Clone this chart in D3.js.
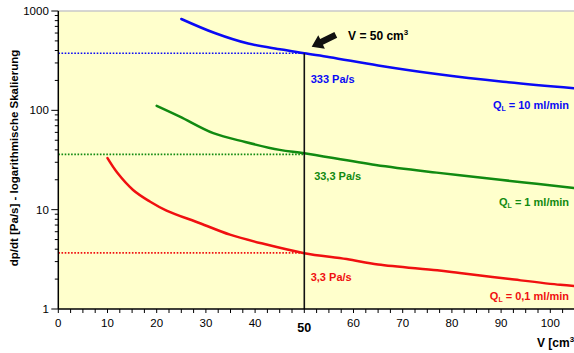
<!DOCTYPE html>
<html>
<head>
<meta charset="utf-8">
<script src="https://cdn.jsdelivr.net/npm/d3@7"></script>
<style>
  body { margin: 0; background: #fff; }
  text { font-family: Arial, "Liberation Sans", sans-serif; }
</style>
</head>
<body>
<div id="graphic"></div>
<script>
// curves (V in cm3, dp/dt in Pa/s)
const blueV   = [25, 31.8, 38.6, 45.4, 50, 55.2, 65, 76.9, 90.4, 104.8];
const blueP   = [831, 600, 470, 410, 375, 343, 283, 232, 194, 167];
const greenV  = [20, 24.7, 31.5, 38, 45, 50, 64.5, 76.9, 89.8, 97.2, 104.8];
const greenP  = [111, 86.5, 58.9, 48, 40, 37, 28.2, 23.6, 20, 18.2, 16.5];
const redV    = [10, 12, 15.2, 18.6, 22, 28.8, 34.9, 41.7, 50, 58.6, 65, 77, 81.6, 91.8, 102, 105];
const redP    = [33, 23.5, 15.8, 12.1, 9.8, 7.3, 5.6, 4.53, 3.65, 3.18, 2.8, 2.45, 2.3, 2.0, 1.75, 1.7];

// reference levels at V = 50
const markV = 50;
const levels = [375, 36, 3.67];
const levelLabels = ["333 Pa/s", "33,3 Pa/s", "3,3 Pa/s"];
const seriesLabels = ["10 ml/min", "1 ml/min", "0,1 ml/min"];

const xTicks = [0, 10, 20, 30, 40, 50, 60, 70, 80, 90, 100];
const yTicks = [1, 10, 100, 1000];

const Chart = {
  colors: ["#0a0af5", "#118a11", "#f01010"],
  margin: { left: 58.3, top: 11, bottom: 44 },
  outerWidth: 574,
  outerHeight: 353,
  parameters(){
    this.height = this.outerHeight - this.margin.top - this.margin.bottom;
    this.pxPerUnit = 4.92;
  },
  createScales(){
    this.xScale = d3.scaleLinear()
      .domain([0, 110])
      .range([0, 110 * this.pxPerUnit]);
    this.yScale = d3.scaleLog()
      .domain([1, 1000])
      .range([this.height, 0]);
  },
  drawPlot(){
    this.svg = d3.select("#graphic").append("svg")
      .attr("width", this.outerWidth)
      .attr("height", this.outerHeight);
    this.plot = this.svg.append("g")
      .attr("transform", `translate(${this.margin.left},${this.margin.top})`);
    this.plot.append("rect")
      .attr("width", this.xScale(110))
      .attr("height", this.height)
      .attr("fill", "#ffffcc");
    this.plot.append("line")
      .attr("x1", 0).attr("x2", this.xScale(110))
      .attr("y1", 0).attr("y2", 0)
      .attr("stroke", "#c8c8c8").attr("stroke-width", 1.5);
  },
  drawAxes(){
    const y = this.yScale, x = this.xScale;
    // y axis: minor log ticks + majors
    const minor = [];
    [1, 10, 100].forEach(d => { for (let k = 2; k <= 9; k++) minor.push(d * k); });
    const ya = this.plot.append("g");
    ya.selectAll(".minor").data(minor).enter().append("line")
      .attr("x1", -3.5).attr("x2", 0)
      .attr("y1", d => y(d)).attr("y2", d => y(d))
      .attr("stroke", "#000").attr("stroke-width", 1);
    ya.selectAll(".major").data(yTicks).enter().append("line")
      .attr("x1", -7).attr("x2", 0)
      .attr("y1", d => y(d)).attr("y2", d => y(d))
      .attr("stroke", "#000").attr("stroke-width", 1);
    ya.selectAll("text").data(yTicks).enter().append("text")
      .attr("x", -9.5).attr("y", d => y(d) + 4)
      .attr("text-anchor", "end")
      .attr("font-size", 11.5)
      .text(d => d);
    ya.append("line")
      .attr("x1", 0).attr("x2", 0).attr("y1", 0).attr("y2", this.height)
      .attr("stroke", "#000").attr("stroke-width", 1.5);

    // x axis
    const xa = this.plot.append("g").attr("transform", `translate(0,${this.height})`);
    xa.selectAll("line.t").data(d3.range(0, 110.1, 2.5)).enter().append("line")
      .attr("x1", d => x(d)).attr("x2", d => x(d))
      .attr("y1", 0).attr("y2", 4)
      .attr("stroke", "#000").attr("stroke-width", 1);
    xa.append("line")
      .attr("x1", 0).attr("x2", x(110)).attr("y1", 0).attr("y2", 0)
      .attr("stroke", "#000").attr("stroke-width", 1.5);
    xa.selectAll("text").data(xTicks).enter().append("text")
      .attr("x", d => x(d))
      .attr("y", d => d === markV ? 23 : 18)
      .attr("text-anchor", "middle")
      .attr("font-size", d => d === markV ? 12.5 : 11.5)
      .attr("font-weight", d => d === markV ? "bold" : "normal")
      .text(d => d);

    // axis titles
    this.svg.append("text")
      .attr("transform", "translate(18,158) rotate(-90)")
      .attr("text-anchor", "middle")
      .attr("font-size", 11.5)
      .attr("font-weight", "bold")
      .text("dp/dt [Pa/s] - logarithmische Skalierung");
    const vt = this.svg.append("text")
      .attr("x", 537).attr("y", 346.5)
      .attr("font-size", 12)
      .attr("font-weight", "bold");
    vt.append("tspan").text("V [cm");
    vt.append("tspan").attr("dy", -5).attr("font-size", 8).text("3");
    vt.append("tspan").attr("dy", 5).text("]");
  },
  drawData(){
    const x = this.xScale, y = this.yScale;
    const line = d3.line().x(d => x(d[0])).y(d => y(d[1])).curve(d3.curveCatmullRom);
    const series = [
      d3.zip(blueV, blueP),
      d3.zip(greenV, greenP),
      d3.zip(redV, redP)
    ];
    series.forEach((s, i) => {
      this.plot.append("path")
        .datum(s)
        .attr("fill", "none")
        .attr("stroke", this.colors[i])
        .attr("stroke-width", 2.5)
        .attr("stroke-linecap", "round")
        .attr("d", line);
    });
  },
  drawMarkers(){
    const x = this.xScale, y = this.yScale;
    levels.forEach((v, i) => {
      this.plot.append("line")
        .attr("x1", 0).attr("x2", x(markV))
        .attr("y1", y(v)).attr("y2", y(v))
        .attr("stroke", this.colors[i])
        .attr("stroke-width", 1.6)
        .attr("stroke-dasharray", "1.6,1.6");
    });
    this.plot.append("line")
      .attr("x1", x(markV)).attr("x2", x(markV))
      .attr("y1", y(levels[0])).attr("y2", this.height)
      .attr("stroke", "#111").attr("stroke-width", 1.6);

    // value labels next to the line
    const labelY = [30, 26, 28];
    const labelX = [1.3, 2, 1.3];
    levelLabels.forEach((t, i) => {
      this.plot.append("text")
        .attr("x", x(markV) + labelX[i] * 4.92)
        .attr("y", y(levels[i]) + labelY[i])
        .attr("font-size", 11)
        .attr("font-weight", "bold")
        .attr("fill", this.colors[i])
        .text(t);
    });

    // series labels at the right
    const sy = [108.5, 206, 299.5];
    seriesLabels.forEach((t, i) => {
      const tx = this.svg.append("text")
        .attr("x", 569).attr("y", sy[i])
        .attr("text-anchor", "end")
        .attr("font-size", 11)
        .attr("font-weight", "bold")
        .attr("fill", this.colors[i]);
      tx.append("tspan").text("Q");
      tx.append("tspan").attr("dy", 2).attr("font-size", 7).text("L");
      tx.append("tspan").attr("dy", -2).text(" = " + t);
    });
  },
  drawArrow(){
    const x = this.xScale, y = this.yScale;
    // arrow from (56.4, 574) to tip at (51.5, 437)
    const tail = [x(56.4), y(574)], tip = [x(51.5), y(437)];
    const dx = tip[0] - tail[0], dy = tip[1] - tail[1];
    const len = Math.hypot(dx, dy);
    const ux = dx / len, uy = dy / len, nx = -uy, ny = ux;
    const hl = 11, hw = 7.5, sw = 3.2;
    const bx = tip[0] - ux * hl, by = tip[1] - uy * hl;
    const pts = [
      [tail[0] + nx * sw, tail[1] + ny * sw],
      [bx + nx * sw, by + ny * sw],
      [bx + nx * hw, by + ny * hw],
      tip,
      [bx - nx * hw, by - ny * hw],
      [bx - nx * sw, by - ny * sw],
      [tail[0] - nx * sw, tail[1] - ny * sw]
    ];
    this.plot.append("path")
      .attr("d", d3.line()(pts) + "Z")
      .attr("fill", "#111");
    const t = this.plot.append("text")
      .attr("x", x(58.9)).attr("y", y(511))
      .attr("font-size", 12)
      .attr("font-weight", "bold");
    t.append("tspan").text("V = 50 cm");
    t.append("tspan").attr("dy", -5).attr("font-size", 8).text("3");
  },
  draw(){
    this.parameters();
    this.createScales();
    this.drawPlot();
    this.drawData();
    this.drawMarkers();
    this.drawAxes();
    this.drawArrow();
  }
};

Chart.draw();
</script>
</body>
</html>
